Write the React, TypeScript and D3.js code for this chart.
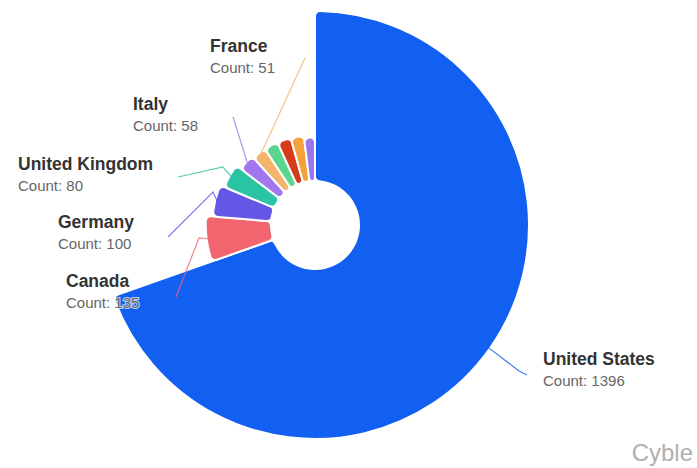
import React from "react";
import * as d3 from "d3";

const countries = ["United States", "Canada", "Germany", "United Kingdom", "Italy", "France", "Australia", "India", "Netherlands", "Spain"];
const counts = [1396, 135, 100, 80, 58, 51, 50, 49, 47, 40];
const colors = ["#1260f2", "#f2656f", "#6557e6", "#2ac3a4", "#a277ee", "#f4b46c", "#5bd68e", "#d63c1c", "#f4a23c", "#9e74ec"];
// label layout (after overlap resolution) for the labelled slices
const labelled = ["United States", "Canada", "Germany", "United Kingdom", "Italy", "France"];
const labelPos: [number, number][] = [[543, 365], [66, 287], [58, 228], [18, 170], [133, 110], [210, 52]];
const lineElbow: [number, number][] = [[519, 371], [199, 238], [213, 192], [223, 167], [244, 152], [265, 145]];
const lineEnd: [number, number][] = [[527, 375], [176, 297], [168, 237], [178, 177], [233, 117], [305, 58]];

const W = 697, H = 468;
const cx = 315, cy = 225;
const innerR = 44;

export default function App() {
  const data = countries.map((name, i) => ({ name, value: counts[i], color: colors[i] }));
  const pie = d3.pie<any>().sort(null).value((d: any) => d.value).startAngle(0).endAngle(2 * Math.PI);
  const arcs = pie(data);
  const rScale = d3.scaleSqrt().domain([0, d3.max(counts) as number]).range([62, 214]);
  const arcGen = d3.arc<any>().innerRadius(innerR).outerRadius((d: any) => rScale(d.data.value)).cornerRadius(5);

  const font = "'Liberation Sans', Arial, Helvetica, sans-serif";

  return (
    <svg width={W} height={H} style={{ position: "absolute", left: 0, top: 0, background: "#fff" }}>
      <g transform={`translate(${cx},${cy})`}>
        {arcs.map((a, i) => (
          <path key={i} d={arcGen(a) as string} fill={a.data.color} stroke="#fff" strokeWidth={2} strokeLinejoin="round" />
        ))}
      </g>
      {labelled.map((name, j) => {
        const a = arcs.find((x) => x.data.name === name)!;
        const mid = (a.startAngle + a.endAngle) / 2;
        const r = rScale(a.data.value) - 2;
        const sx = cx + r * Math.sin(mid);
        const sy = cy - r * Math.cos(mid);
        const pts = [[sx, sy], lineElbow[j], lineEnd[j]];
        return (
          <g key={name}>
            <polyline points={pts.map((p) => p.join(",")).join(" ")} fill="none" stroke={a.data.color} strokeWidth={1.2} opacity={0.8} />
          </g>
        );
      })}
      {labelled.map((name, j) => {
        const a = arcs.find((x) => x.data.name === name)!;
        const [lx, ly] = labelPos[j];
        return (
          <g key={"t" + name} fontFamily={font}>
            <text x={lx} y={ly} fontSize={17.5} fontWeight="bold" fill="#333">
              {name}
            </text>
            <text x={lx} y={ly + 21} fontSize={15} fill="#666" style={{ paintOrder: "stroke" }} stroke="rgba(255,255,255,0.7)" strokeWidth={2}>
              {`Count: ${a.data.value}`}
            </text>
          </g>
        );
      })}
      <text x={693} y={461} textAnchor="end" fontFamily={font} fontSize={24} fill="#b0b0b0">Cyble</text>
    </svg>
  );
}
